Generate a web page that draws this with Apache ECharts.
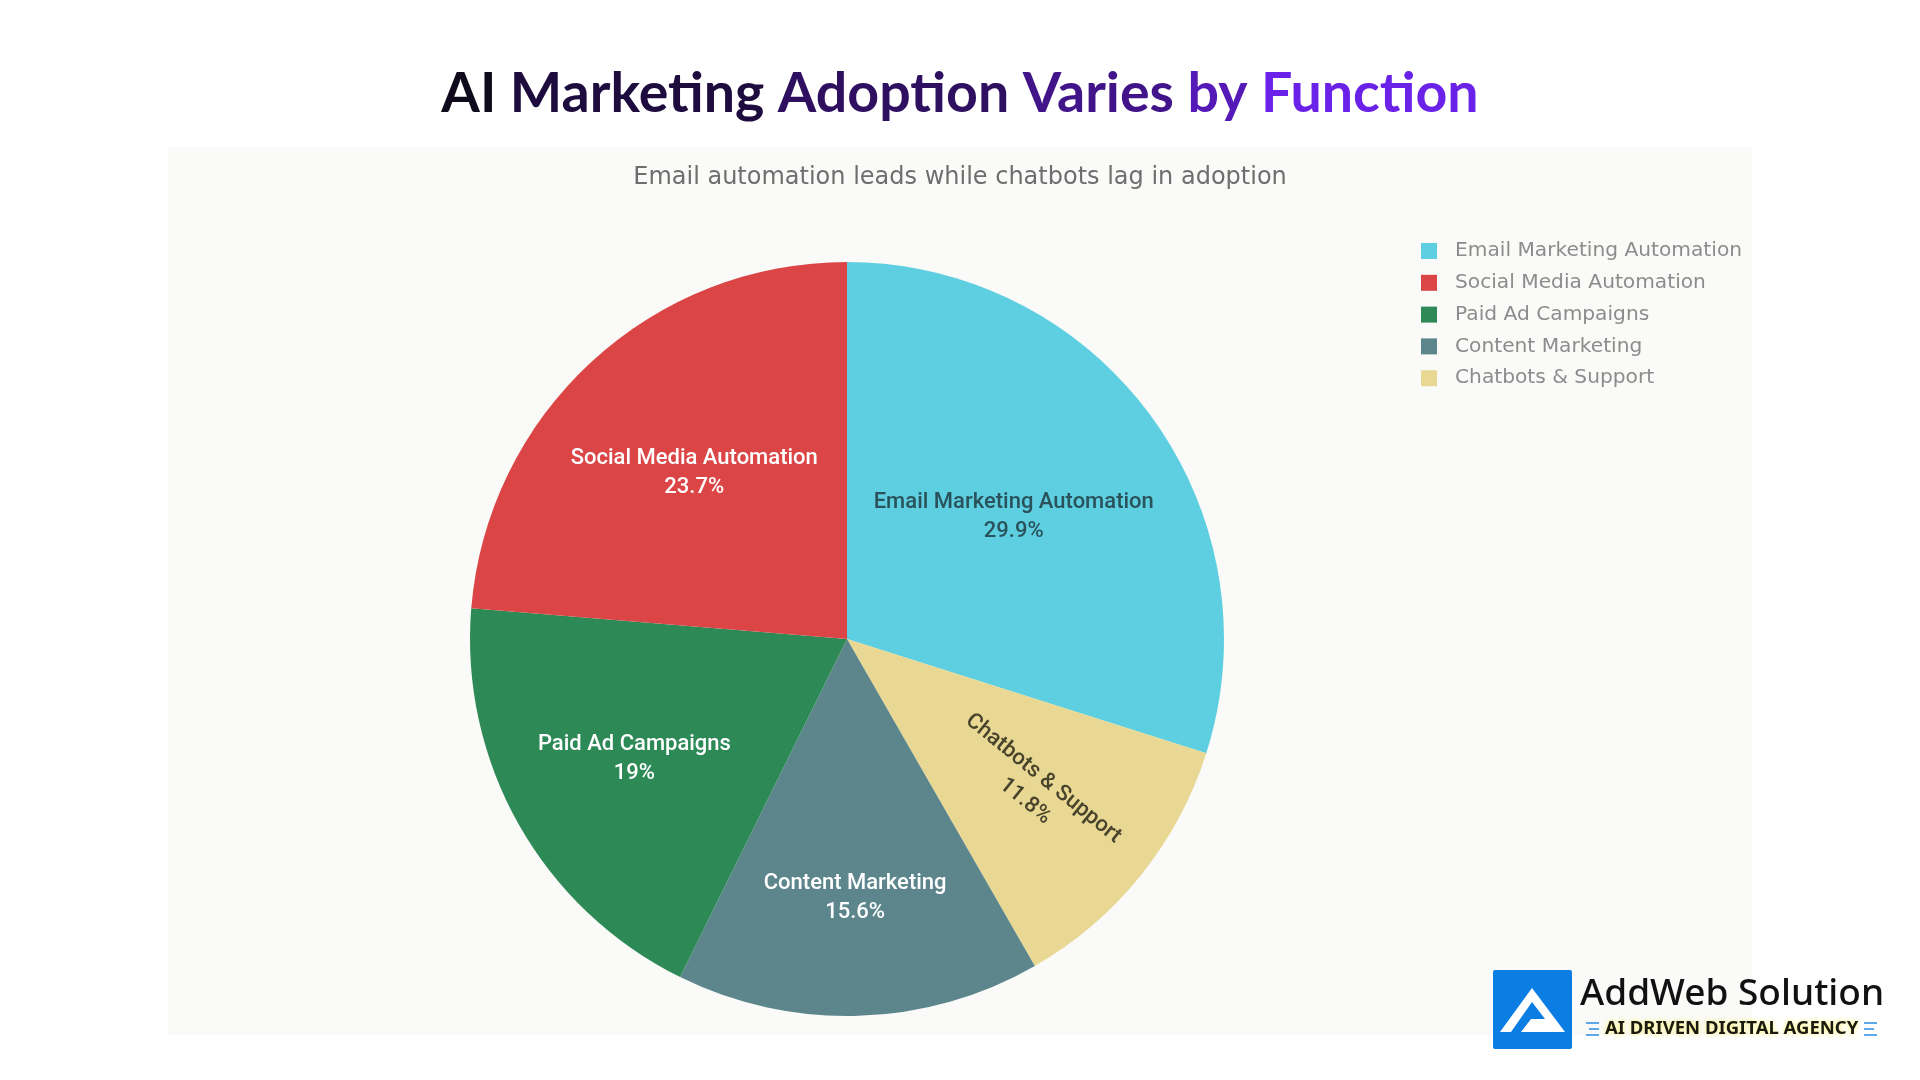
<!DOCTYPE html>
<html>
<head>
<meta charset="utf-8">
<script src="https://cdn.jsdelivr.net/npm/echarts@6/dist/echarts.min.js"></script>
<style>
html,body{margin:0;padding:0;background:#ffffff;}
#chart{width:1920px;height:1080px;}
</style>
</head>
<body>
<div id="chart"></div>
<script>
// ---- data ----
const categories = ['Email Marketing Automation', 'Chatbots & Support', 'Content Marketing', 'Paid Ad Campaigns', 'Social Media Automation'];
const shares = [29.9, 11.8, 15.6, 19, 23.7];
const legendOrder = ['Email Marketing Automation', 'Social Media Automation', 'Paid Ad Campaigns', 'Content Marketing', 'Chatbots & Support'];
const titleText = 'AI Marketing Adoption Varies by Function';
const subtitleText = 'Email automation leads while chatbots lag in adoption';

// ---- styles / layout ----
const sliceColors = ['#5ecfe1', '#e9d893', '#5c868c', '#2d8a56', '#db4546'];
const labelColors = ['#2a525a', '#48442c', '#ffffff', '#ffffff', '#ffffff'];
const labelRadiusFrac = [0.54, 0.63, 0.68, 0.64, 0.59];
const labelRotate = [0, 'radial', 0, 0, 0];
const titleWordColors = ['#0f0b1c', '#1f0c3e', '#2e0f60', '#411489', '#5419b6', '#6a22e8'];
const CX = 847, CY = 639, R = 377;

const chart = echarts.init(document.getElementById('chart'));

const mainData = categories.map((n, i) => ({ name: n, value: shares[i], itemStyle: { color: sliceColors[i] } }));

const labelSeries = categories.map((n, k) => ({
  type: 'pie',
  silent: true,
  z: 5,
  center: [CX, CY],
  radius: [0, 2 * labelRadiusFrac[k] * R],
  startAngle: 90,
  clockwise: true,
  animation: false,
  tooltip: { show: false },
  emphasis: { disabled: true },
  labelLine: { show: false },
  itemStyle: { color: 'rgba(0,0,0,0)', borderWidth: 0 },
  data: categories.map((m, i) => ({
    name: m,
    value: shares[i],
    itemStyle: { color: 'rgba(0,0,0,0)' },
    label: {
      show: i === k,
      position: 'inside',
      formatter: '{b}\n{c}%',
      color: labelColors[i],
      fontFamily: 'Roboto, Liberation Sans, sans-serif',
      fontWeight: 500,
      fontSize: 22,
      lineHeight: 29,
      rotate: labelRotate[i]
    }
  }))
}));

// title words coloured along a dark-to-violet gradient
const titleWords = titleText.split(' ');
const titleRich = {};
titleWords.forEach((w, i) => {
  titleRich['w' + i] = { color: titleWordColors[i], fontFamily: 'Lato, sans-serif', fontWeight: 700, fontSize: 55.5, lineHeight: 66 };
});
const titleFormatted = titleWords.map((w, i) => '{w' + i + '|' + w + '}').join(' ');

const option = {
  backgroundColor: '#ffffff',
  animation: false,
  title: [
    {
      text: titleFormatted,
      left: 'center',
      top: 56,
      textStyle: {
        fontFamily: 'Lato, sans-serif',
        fontWeight: 700,
        fontSize: 55.5,
        lineHeight: 66,
        color: '#2e0f60',
        rich: titleRich
      }
    },
    {
      text: subtitleText,
      left: 'center',
      top: 159,
      textStyle: {
        fontFamily: 'DejaVu Sans, sans-serif',
        fontWeight: 'normal',
        fontSize: 24,
        lineHeight: 28,
        color: '#6e6e6e'
      }
    }
  ],
  legend: {
    orient: 'vertical',
    left: 1416,
    top: 236,
    data: legendOrder,
    icon: 'rect',
    itemWidth: 16,
    itemHeight: 16,
    itemGap: 11.8,
    selectedMode: false,
    textStyle: {
      fontFamily: 'DejaVu Sans, sans-serif',
      fontSize: 20.2,
      lineHeight: 20,
      color: '#8c8c8c',
      padding: [0, 0, 0, 13]
    }
  },
  graphic: [
    { type: 'rect', z: -10, silent: true, shape: { x: 168, y: 147, width: 1584, height: 888 }, style: { fill: '#fafaf8' } },
    // logo
    { type: 'rect', z: 10, shape: { x: 1493, y: 970, width: 79, height: 79, r: 2 }, style: { fill: '#0b7de3' } },
    { type: 'polygon', z: 11, shape: { points: [[1532, 988], [1565, 1032], [1521, 1032], [1531, 1019], [1545, 1019], [1532, 1002], [1511, 1032], [1500, 1032]] }, style: { fill: '#ffffff' } },
    { type: 'text', z: 11, style: { x: 1580, y: 994, text: 'AddWeb Solution', font: '500 37px "Noto Sans", sans-serif', fill: '#111111', verticalAlign: 'middle', align: 'left' } },
    { type: 'text', z: 11, style: { x: 1605, y: 1029, text: 'AI DRIVEN DIGITAL AGENCY', font: 'bold 18.5px "Noto Sans", sans-serif', fill: '#1a1a10', verticalAlign: 'middle', align: 'left', textShadowColor: '#fff36a', textShadowBlur: 5 } },
    { type: 'group', z: 11, children: [
      { type: 'line', shape: { x1: 1586, y1: 1023, x2: 1599, y2: 1023 }, style: { stroke: '#2b8be6', lineWidth: 1.5 } },
      { type: 'line', shape: { x1: 1589, y1: 1029, x2: 1599, y2: 1029 }, style: { stroke: '#2b8be6', lineWidth: 1.5 } },
      { type: 'line', shape: { x1: 1586, y1: 1035, x2: 1599, y2: 1035 }, style: { stroke: '#2b8be6', lineWidth: 1.5 } },
      { type: 'line', shape: { x1: 1864, y1: 1023, x2: 1877, y2: 1023 }, style: { stroke: '#2b8be6', lineWidth: 1.5 } },
      { type: 'line', shape: { x1: 1864, y1: 1029, x2: 1874, y2: 1029 }, style: { stroke: '#2b8be6', lineWidth: 1.5 } },
      { type: 'line', shape: { x1: 1864, y1: 1035, x2: 1877, y2: 1035 }, style: { stroke: '#2b8be6', lineWidth: 1.5 } }
    ] }
  ],
  series: [
    {
      type: 'pie',
      name: 'Adoption',
      z: 2,
      center: [CX, CY],
      radius: [0, R],
      startAngle: 90,
      clockwise: true,
      label: { show: false },
      labelLine: { show: false },
      itemStyle: { borderWidth: 0 },
      emphasis: { disabled: true },
      data: mainData
    }
  ].concat(labelSeries)
};

chart.setOption(option);
</script>
</body>
</html>
